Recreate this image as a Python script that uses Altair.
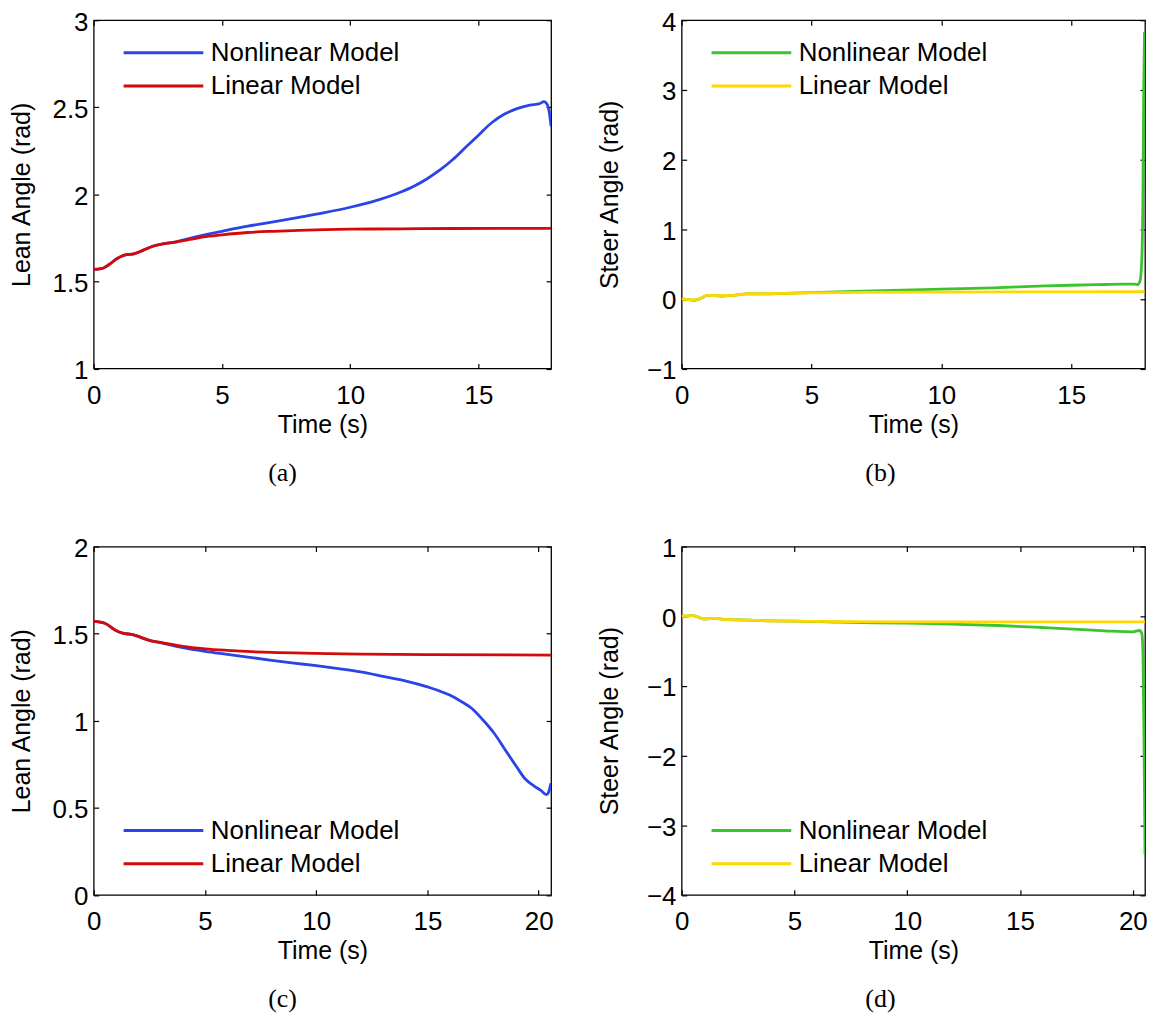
import altair as alt
import pandas as pd

SERIES = ["Nonlinear Model", "Linear Model"]

# ---------- panel (a): lean angle, case 1 ----------
A_T_NL = [0, 0.3, 0.6, 0.9, 1.2, 1.6, 1.9, 2.3, 2.7, 3.2, 3.7, 4.5, 5, 6, 7, 8, 9, 10, 11, 12,
          12.5, 13, 13.5, 14, 14.5, 15, 15.5, 16, 16.5, 17, 17.4, 17.55, 17.68, 17.76, 17.83]
A_V_NL = [1.569, 1.573, 1.597, 1.63, 1.651, 1.66, 1.677, 1.702, 1.716, 1.727, 1.746, 1.773, 1.788,
          1.817, 1.842, 1.868, 1.895, 1.926, 1.964, 2.015, 2.048, 2.09, 2.14, 2.2, 2.27, 2.34, 2.41,
          2.46, 2.492, 2.512, 2.522, 2.532, 2.515, 2.47, 2.39]
A_T_L = [0, 0.3, 0.6, 0.9, 1.2, 1.6, 1.9, 2.3, 2.7, 3.2, 3.7, 4.5, 5, 6, 7, 8, 9, 10, 12, 14, 16, 17.83]
A_V_L = [1.569, 1.573, 1.597, 1.63, 1.651, 1.66, 1.677, 1.702, 1.716, 1.726, 1.74, 1.76, 1.768,
         1.781, 1.788, 1.793, 1.797, 1.8, 1.802, 1.804, 1.805, 1.805]

# ---------- panel (b): steer angle, case 1 ----------
B_T_NL = [0, 0.25, 0.5, 0.75, 1.0, 1.5, 2.0, 2.5, 3.0, 4, 5, 7, 10, 12, 14, 15, 16, 17, 17.45,
          17.55, 17.65, 17.72, 17.76, 17.79, 17.82]
B_V_NL = [0, -0.01, -0.02, 0.01, 0.05, 0.04, 0.05, 0.07, 0.07, 0.08, 0.09, 0.112, 0.14, 0.158,
          0.185, 0.195, 0.203, 0.21, 0.21, 0.205, 0.26, 0.6, 1.5, 3.0, 3.83]
B_T_L = [0, 0.25, 0.5, 0.75, 1.0, 1.5, 2.0, 2.5, 3.0, 4, 5, 7, 10, 13, 17.82]
B_V_L = [0, -0.01, -0.015, 0.01, 0.05, 0.045, 0.05, 0.07, 0.072, 0.08, 0.085, 0.092, 0.097, 0.1, 0.102]

# ---------- panel (c): lean angle, case 2 ----------
C_T_NL = [0, 0.5, 1.0, 1.3, 1.8, 2.0, 2.5, 3, 4, 5, 6, 7, 8, 9, 10, 11, 12, 13, 14, 15, 16, 16.5,
          17, 17.5, 18, 18.5, 19, 19.4, 19.8, 20.1, 20.35, 20.45, 20.55]
C_V_NL = [1.571, 1.56, 1.518, 1.503, 1.493, 1.484, 1.461, 1.448, 1.419, 1.398, 1.381, 1.364, 1.347,
          1.331, 1.316, 1.299, 1.28, 1.255, 1.229, 1.194, 1.147, 1.112, 1.07, 1.004, 0.928, 0.832,
          0.737, 0.665, 0.625, 0.6, 0.576, 0.59, 0.64]
C_T_L = [0, 0.5, 1.0, 1.3, 1.8, 2.0, 2.5, 3, 4, 5, 6, 8, 10, 12, 15, 20.55]
C_V_L = [1.571, 1.56, 1.518, 1.503, 1.493, 1.484, 1.461, 1.45, 1.427, 1.413, 1.404, 1.392, 1.387,
         1.383, 1.379, 1.377]

# ---------- panel (d): steer angle, case 2 ----------
D_T_NL = [0, 0.5, 1.0, 1.5, 2, 3, 4, 5, 7, 10, 12, 14, 16, 18, 19, 20, 20.3, 20.4, 20.45, 20.5, 20.54]
D_V_NL = [0, 0.01, -0.04, -0.03, -0.05, -0.055, -0.067, -0.07, -0.086, -0.1, -0.114, -0.133,
          -0.162, -0.195, -0.214, -0.224, -0.205, -0.25, -0.54, -1.97, -3.42]
D_T_L = [0, 0.5, 1.0, 1.5, 2, 3, 4, 5, 7, 10, 20.54]
D_V_L = [0, 0.01, -0.04, -0.03, -0.05, -0.055, -0.067, -0.07, -0.076, -0.08, -0.08]

LEAN_COLORS = ["#2a44e6", "#d40a0a"]
STEER_COLORS = ["#3cc42e", "#ffd800"]

X_TICKS_1 = [0, 5, 10, 15]
X_TICKS_2 = [0, 5, 10, 15, 20]

FONT = "Liberation Sans"
SERIF = "Liberation Serif"


def tick_axis():
    return dict(domain=False, grid=False, ticks=True, tickSize=5, tickWidth=1.2,
                tickColor="black", offset=-5)


def panel(t_nl, v_nl, t_l, v_l, colors, xmax, xticks, ydom, yticks, ytitle, caption,
          w, h, legend_y, cap_dx):
    nl = pd.DataFrame({"t": t_nl, "v": v_nl, "series": SERIES[0]})
    ln = pd.DataFrame({"t": t_l, "v": v_l, "series": SERIES[1]})
    xs = alt.Scale(domain=[0, xmax], nice=False, zero=False)
    ys = alt.Scale(domain=ydom, nice=False, zero=False)
    cs = alt.Scale(domain=SERIES, range=colors)
    leg = alt.Legend(orient="none", legendX=28.5, legendY=legend_y, title=None,
                     symbolType="stroke", symbolSize=6400, symbolStrokeWidth=3,
                     labelFont=FONT, labelFontSize=26, labelColor="black", labelOffset=6,
                     labelLimit=400, clipHeight=28, rowPadding=5.3, padding=0)
    xb = alt.Axis(orient="bottom", values=xticks, labelFlush=False, labelPadding=14,
                  title="Time (s)", titleX=w / 2, titleY=60.8, titleAlign="center",
                  titleBaseline="middle", **tick_axis())
    yl = alt.Axis(orient="left", values=yticks, format="~g", labelPadding=5.7, labelOffset=2,
                  title=ytitle, titleX=-77.5, titleY=h / 2, titleAngle=270,
                  titleAlign="center", titleBaseline="middle", **tick_axis())
    xt = alt.Axis(orient="top", values=xticks, labels=False, title=None, **tick_axis())
    yr = alt.Axis(orient="right", values=yticks, labels=False, title=None, **tick_axis())

    l1 = alt.Chart(nl).mark_line(strokeWidth=2.8, interpolate="monotone", clip=True).encode(
        x=alt.X("t:Q", scale=xs, axis=xb),
        y=alt.Y("v:Q", scale=ys, axis=yl),
        color=alt.Color("series:N", scale=cs, legend=leg),
    )
    l2 = alt.Chart(ln).mark_line(strokeWidth=2.8, interpolate="monotone", clip=True).encode(
        x=alt.X("t:Q", scale=xs, axis=xt),
        y=alt.Y("v:Q", scale=ys, axis=yr),
        color=alt.Color("series:N", scale=cs, legend=leg),
    )
    return (
        alt.layer(l1, l2)
        .resolve_axis(x="independent", y="independent")
        .properties(
            width=w, height=h,
            title=alt.TitleParams(caption, orient="bottom", anchor="middle", font=SERIF,
                                  fontSize=26, fontWeight="normal", color="black", offset=23,
                                  dx=cap_dx),
        )
    )


W1, W2, H = 459, 465, 349.5

pa = panel(A_T_NL, A_V_NL, A_T_L, A_V_L, LEAN_COLORS, 17.83, X_TICKS_1, [1, 3],
           [1, 1.5, 2, 2.5, 3], "Lean Angle (rad)", "(a)", W1, H, 18.6, -40)
pb = panel(B_T_NL, B_V_NL, B_T_L, B_V_L, STEER_COLORS, 17.84, X_TICKS_1, [-1, 4],
           [-1, 0, 1, 2, 3, 4], "Steer Angle (rad)", "(b)", W2, H, 18.6, -33)
pc = panel(C_T_NL, C_V_NL, C_T_L, C_V_L, LEAN_COLORS, 20.56, X_TICKS_2, [0, 2],
           [0, 0.5, 1, 1.5, 2], "Lean Angle (rad)", "(c)", W1, H, 271, -40)
pdd = panel(D_T_NL, D_V_NL, D_T_L, D_V_L, STEER_COLORS, 20.54, X_TICKS_2, [-4, 1],
            [-4, -3, -2, -1, 0, 1], "Steer Angle (rad)", "(d)", W2, H, 271, -33)

chart = (
    alt.concat(pa, pb, pc, pdd, columns=2, spacing={"row": 178.2, "column": 131},
               bounds="flush")
    .resolve_scale(color="independent")
    .resolve_legend(color="independent")
    .properties(padding={"left": 0, "top": -1.5, "right": 0, "bottom": 0}, background="white")
    .configure_view(stroke="black", strokeWidth=1.3)
    .configure_axis(labelFont=FONT, labelFontSize=26, labelColor="black",
                    titleFont=FONT, titleFontSize=25, titleFontWeight="normal",
                    titleColor="black")
)

chart.save("out.html", embed_options={"renderer": "svg", "actions": False})
